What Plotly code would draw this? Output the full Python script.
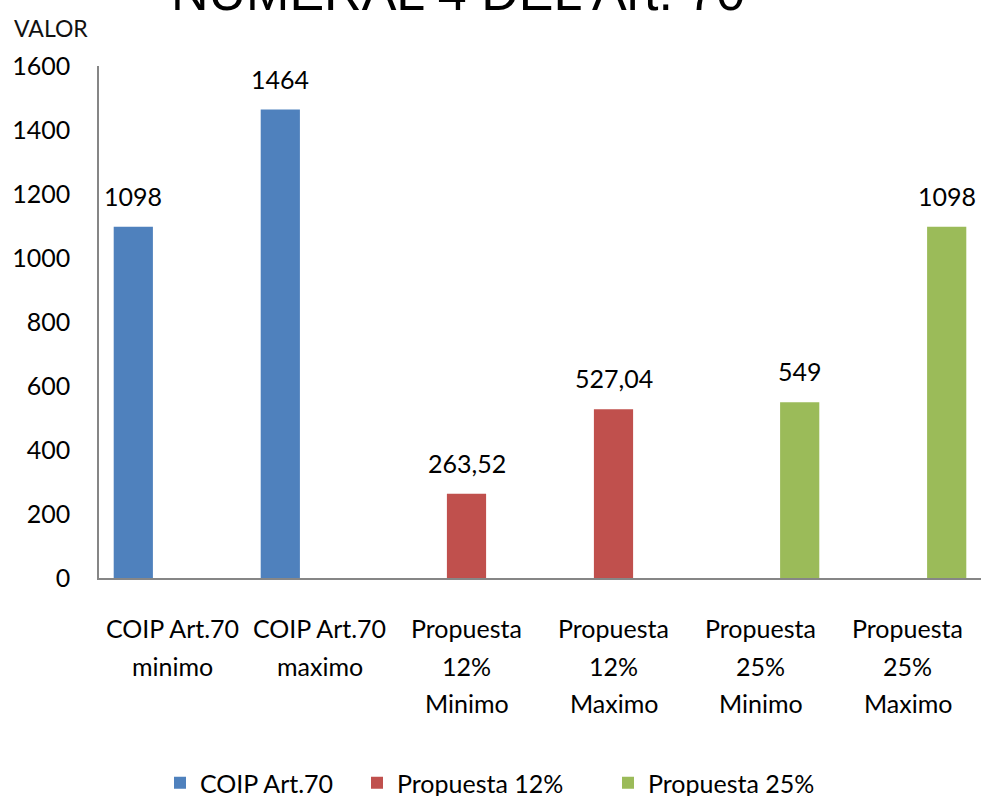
import plotly.graph_objects as go

categories = ["COIP Art.70 minimo", "COIP Art.70 maximo", "Propuesta 12% Minimo",
              "Propuesta 12% Maximo", "Propuesta 25% Minimo", "Propuesta 25% Maximo"]
category_lines = [["COIP Art.70", "minimo"], ["COIP Art.70", "maximo"],
                  ["Propuesta", "12%", "Minimo"], ["Propuesta", "12%", "Maximo"],
                  ["Propuesta", "25%", "Minimo"], ["Propuesta", "25%", "Maximo"]]
series_names = ["COIP Art.70", "Propuesta 12%", "Propuesta 25%"]
coip_values = [1098, 1464, None, None, None, None]
p12_values = [None, None, 263.52, 527.04, None, None]
p25_values = [None, None, None, None, 549, 1098]
series_values = [coip_values, p12_values, p25_values]
colors = ["#4F81BD", "#C0504D", "#9BBB59"]
legend_widths = [152, 206, 180]
y_ticks = [0, 200, 400, 600, 800, 1000, 1200, 1400, 1600]
title_text = "NUMERAL 4 DEL Art. 70"
y_title = "VALOR"

FONT = "Lato"
BARGAP = 0.2


def fmt(v):
    s = ("%.2f" % v) if v != int(v) else str(int(v))
    return s.replace(".", ",")


fig = go.Figure()
for name, vals, col, lw in zip(series_names, series_values, colors, legend_widths):
    fig.add_trace(go.Bar(x=categories, y=vals, name=name, marker_color=col,
                         marker_line_width=0, legendwidth=lw))

annotations = []
n = len(series_names)
w = (1 - BARGAP) / n
for k, vals in enumerate(series_values):
    for i, v in enumerate(vals):
        if v is None:
            continue
        annotations.append(dict(x=i + (k - (n - 1) / 2) * w, y=v, xref="x", yref="y",
                                text=fmt(v), showarrow=False, yanchor="bottom",
                                yshift=14, font=dict(family=FONT, size=25, color="#000")))

for i, lines in enumerate(category_lines):
    for j, line in enumerate(lines):
        annotations.append(dict(x=i, y=0, xref="x", yref="paper", text=line,
                                showarrow=False, yanchor="middle", yshift=-(50 + j * 37.5),
                                font=dict(family=FONT, size=25, color="#000")))

annotations.append(dict(x=0, y=1, xref="paper", yref="paper", text=y_title, showarrow=False,
                        xanchor="left", yanchor="middle", xshift=-87, yshift=38,
                        font=dict(family=FONT, size=23, color="#111")))

annotations.append(dict(x=(458 - 99) / 882, y=1, xref="paper", yref="paper",
                        text=title_text, showarrow=False, xanchor="center", yanchor="middle",
                        yshift=74, font=dict(family="Liberation Sans, Arial", size=52, color="#000")))

fig.update_layout(
    width=981, height=796,
    margin=dict(l=99, r=0, t=66, b=218),
    paper_bgcolor="white", plot_bgcolor="white",
    barmode="group", bargap=BARGAP, bargroupgap=0,
    font=dict(family=FONT, color="#000"),
    showlegend=True,
    legend=dict(orientation="h", xref="container", yref="container", x=160 / 981, xanchor="left",
                y=13 / 796, yanchor="middle", font=dict(family=FONT, size=25, color="#000"),
                traceorder="normal"),
    annotations=annotations,
)
fig.update_xaxes(showticklabels=False, showline=True, linecolor="#868686", linewidth=1.5,
                 ticks="", showgrid=False, type="category")
fig.update_yaxes(range=[0, 1600], tickvals=y_ticks, showline=True, linecolor="#868686",
                 linewidth=1.5, ticks="", showgrid=False, zeroline=False,
                 tickfont=dict(family=FONT, size=25, color="#000"), ticklabelstandoff=22)

fig.write_html("out.html", config={"displayModeBar": False},
               post_script="document.body.style.margin='0';")
